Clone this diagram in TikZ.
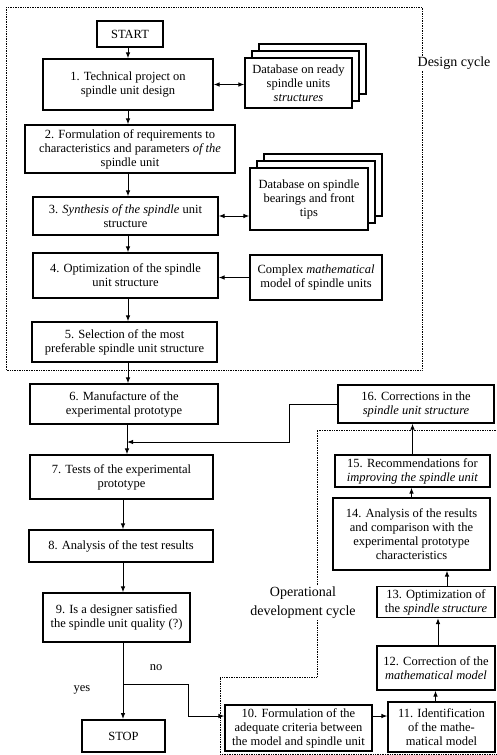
\documentclass[tikz,border=0pt]{standalone}
\usepackage{fontspec}
\setmainfont{Liberation Serif}
\usetikzlibrary{arrows.meta,positioning,shadows}

\begin{document}
\begin{tikzpicture}[x=1pt,y=-1pt,
  every node/.style={font=\fontsize{12.5}{14}\selectfont},
  pbox/.style={draw,line width=1.1pt,align=center,inner sep=2pt},
  dbox/.style={pbox,fill=white,double copy shadow={shadow xshift=7pt,shadow yshift=7pt}},
  tbox/.style={pbox,line width=1.8pt},
  cyc/.style={densely dotted,line width=0.7pt},
  arr/.style={line width=1pt,-{Latex[length=6pt,width=4.5pt]}},
  darr/.style={line width=1pt,{Latex[length=6pt,width=4.5pt]}-{Latex[length=6pt,width=4.5pt]}},
  cyclab/.style={fill=white,align=center,inner sep=1pt,font=\fontsize{14}{19}\selectfont}]

  \useasboundingbox (0,0) rectangle (496,755);

  % design cycle
  \node[tbox,minimum width=66pt,minimum height=26pt] (start) at (130,34) {START};
  \node[pbox,minimum width=170pt,minimum height=51pt] (b1) at (128,84.5) {1. Technical project on\\spindle unit design};
  \node[dbox,minimum width=107pt,minimum height=50pt] (db1) at (298.5,83) {Database on ready\\spindle units\\\textit{structures}};
  \node[pbox,minimum width=210pt,minimum height=48pt] (b2) at (130,149) {2. Formulation of requirements to\\characteristics and parameters \textit{of the}\\spindle unit};
  \node[dbox,minimum width=118pt,minimum height=62pt] (db2) at (309,199) {Database on spindle\\bearings and front\\tips};
  \node[pbox,minimum width=185pt,minimum height=38pt] (b3) at (125.5,216) {3. \textit{Synthesis of the spindle} unit\\structure};
  \node[pbox,minimum width=185pt,minimum height=45pt] (b4) at (125.5,275.5) {4. Optimization of the spindle\\unit structure};
  \node[pbox,minimum width=132pt,minimum height=45pt] (cmx) at (316,277.5) {Complex \textit{mathematical}\\model of spindle units};
  \node[pbox,minimum width=185pt,minimum height=40pt] (b5) at (124.5,342) {5. Selection of the most\\preferable spindle unit structure};

  \draw[cyc] (6,7) rectangle (422,370);
  \node[cyclab] (dlab) at (454,63) {Design cycle};

  % testing
  \node[pbox,minimum width=188pt,minimum height=40pt] (b6) at (124,404) {6. Manufacture of the\\experimental prototype};
  \node[pbox,minimum width=156pt,minimum height=38pt] (b16) at (416,404) {16. Corrections in the\\\textit{spindle unit structure}};
  \node[pbox,minimum width=183pt,minimum height=44pt] (b7) at (121.5,477) {7. Tests of the experimental\\prototype};
  \node[pbox,minimum width=184pt,minimum height=32pt] (b8) at (121,546) {8. Analysis of the test results};
  \node[pbox,minimum width=147pt,minimum height=49pt] (b9) at (116.5,617.5) {9. Is a designer satisfied\\the spindle unit quality (?)};
  \node[tbox,minimum width=83pt,minimum height=32pt] (stop) at (123.5,736) {STOP};

  % operational development cycle
  \node[pbox,minimum width=147pt,minimum height=46pt] (b10) at (298.5,728) {10. Formulation of the\\adequate criteria between\\the model and spindle unit};
  \node[pbox,minimum width=107pt,minimum height=50pt] (b11) at (441.5,727) {11. Identification\\of the mathe-\\matical model};
  \node[pbox,minimum width=118pt,minimum height=44pt] (b12) at (436,668) {12. Correction of the\\\textit{mathematical model}};
  \node[pbox,minimum width=118pt,minimum height=31pt] (b13) at (436,602) {13. Optimization of\\the \textit{spindle structure}};
  \node[pbox,minimum width=157pt,minimum height=72pt] (b14) at (411.5,534) {14. Analysis of the results\\and comparison with the\\experimental prototype\\characteristics};
  \node[pbox,minimum width=155pt,minimum height=32pt] (b15) at (412.5,471) {15. Recommendations for\\\textit{improving the spindle unit}};

  \draw[cyc] (496,430) -| (317,677) -| (220,754) -- (496,754);
  \node[cyclab] (olab) at (303,603) {Operational\\development cycle};

  \coordinate (spine) at (128,0);
  \coordinate (join) at (127,442);
  \coordinate (split) at (123,684);

  % main column
  \draw[arr] (start.south -| spine) -- (b1.north -| spine);
  \draw[arr] (b1.south -| spine) -- (b2.north -| spine);
  \draw[arr] (b2.south -| spine) -- (b3.north -| spine);
  \draw[arr] (b3.south -| spine) -- (b4.north -| spine);
  \draw[arr] (b4.south -| spine) -- (b5.north -| spine);
  \draw[arr] (b5.south -| spine) -- (b6.north -| spine);
  \draw[arr] (b6.south -| join) -- (b7.north -| join);
  \draw[arr] (b7.south -| split) -- (b8.north -| split);
  \draw[arr] (b8.south -| split) -- (b9.north -| split);
  \draw[arr] (b9.south -| split) -- (stop.north -| split);

  % databases and model
  \draw[darr] (b1.east) -- (b1.east -| db1.west);
  \draw[darr] (b3.east) -- (b3.east -| db2.west);
  \draw[arr] (cmx.west) -- (cmx.west -| b4.east);

  % feedback
  \draw[arr] (b16.west) -- ++(-48,0) |- (join);
  \draw[arr] (split) -- ++(65,0) |- ([yshift=12pt]b10.west);
  \node (no) at (156,668) {no};
  \node (yes) at (82,690) {yes};

  % right column
  \draw[arr] ([yshift=12pt]b10.east) -- ([yshift=12pt]b10.east -| b11.west);
  \draw[arr] ([xshift=-6pt]b11.north) -- ([xshift=-6pt]b11.north |- b12.south);
  \draw[arr] ([xshift=2pt]b12.north) -- ([xshift=2pt]b12.north |- b13.south);
  \draw[arr] ([xshift=11pt]b13.north) -- ([xshift=11pt]b13.north |- b14.south);
  \draw[arr] (b14.north) -- (b14.north |- b15.south);
  \draw[arr] (b15.north) -- (b15.north |- b16.south);

\end{tikzpicture}
\end{document}
